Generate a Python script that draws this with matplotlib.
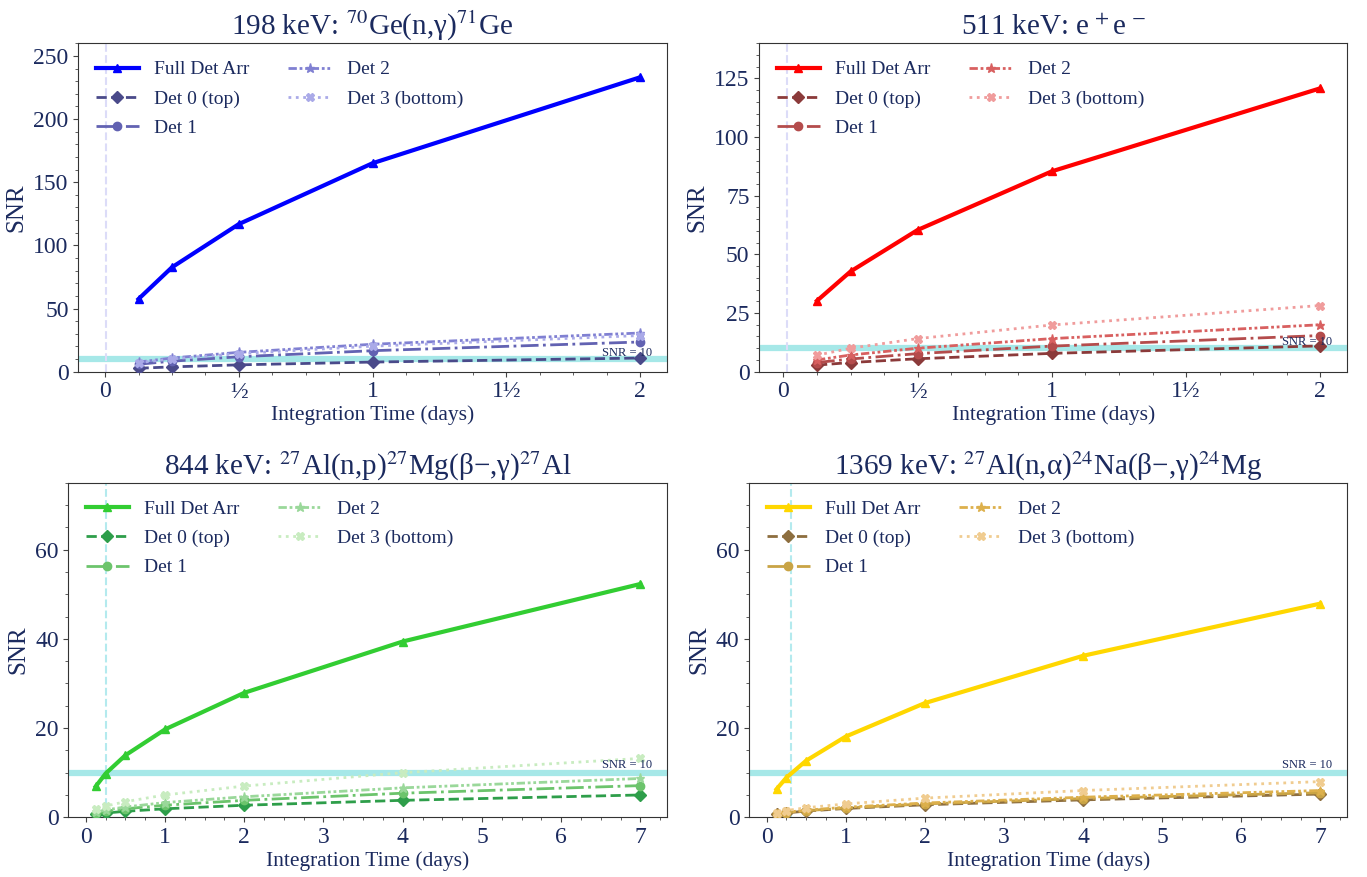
import matplotlib
matplotlib.use('Agg')
import matplotlib.pyplot as plt
from matplotlib.ticker import FixedLocator, MultipleLocator

plt.rcParams['font.family'] = ['Liberation Serif', 'DejaVu Serif']
plt.rcParams['mathtext.fontset'] = 'stix'

# integration times (days)
x_short = [0.125, 0.25, 0.5, 1, 2]
x_long = [0.125, 0.25, 0.5, 1, 2, 4, 7]

# 198 keV: 70Ge(n,g)71Ge
ge198_full = [57.5, 82.6, 116.8, 165.0, 233.0]
ge198_det0 = [2.7, 3.8, 5.4, 7.6, 10.8]
ge198_det1 = [5.9, 8.3, 11.8, 16.6, 23.5]
ge198_det2 = [7.6, 10.8, 15.3, 21.7, 30.6]
ge198_det3 = [7.1, 10.1, 14.3, 20.2, 28.6]

# 511 keV: e+e-
pos511_full = [30.2, 42.7, 60.4, 85.4, 120.8]
pos511_det0 = [2.8, 3.9, 5.5, 7.8, 11.0]
pos511_det1 = [3.9, 5.4, 7.7, 10.9, 15.4]
pos511_det2 = [5.0, 7.1, 10.0, 14.1, 20.0]
pos511_det3 = [7.0, 10.0, 14.1, 19.9, 28.2]

# 844 keV: 27Al(n,p)27Mg
al844_full = [6.9, 9.8, 13.9, 19.7, 27.9, 39.4, 52.3]
al844_det0 = [0.67, 0.94, 1.34, 1.9, 2.7, 3.8, 5.0]
al844_det1 = [0.95, 1.34, 1.9, 2.7, 3.8, 5.4, 7.1]
al844_det2 = [1.16, 1.64, 2.3, 3.3, 4.6, 6.6, 8.7]
al844_det3 = [1.76, 2.5, 3.5, 5.0, 7.0, 10.0, 13.2]

# 1369 keV: 27Al(n,a)24Na
na1369_full = [6.3, 8.9, 12.7, 18.1, 25.6, 36.2, 47.9]
na1369_det0 = [0.70, 0.98, 1.39, 1.97, 2.8, 3.9, 5.2]
na1369_det1 = [0.75, 1.05, 1.48, 2.1, 3.0, 4.2, 5.5]
na1369_det2 = [0.8, 1.13, 1.6, 2.25, 3.2, 4.5, 6.0]
na1369_det3 = [1.07, 1.51, 2.14, 3.0, 4.3, 6.0, 8.0]

# time where SNR reaches 10 (dashed vertical marker)
t_snr10 = [0.004, 0.014, 0.255, 0.31]

labels = ['Full Det Arr', 'Det 0 (top)', 'Det 1', 'Det 2', 'Det 3 (bottom)']
titles = [r'198 keV: $^{70}$Ge(n,γ)$^{71}$Ge',
          r'511 keV: e$^{\,+}$e$^{\,-}$',
          r'844 keV: $^{27}$Al(n,p)$^{27}$Mg(β−,γ)$^{27}$Al',
          r'1369 keV: $^{27}$Al(n,α)$^{24}$Na(β−,γ)$^{24}$Mg']

text_col = '#1b2a5e'
snr_col = '#a6e8e8'

panels = [
    dict(x=x_short, ys=[ge198_full, ge198_det0, ge198_det1, ge198_det2, ge198_det3],
         colors=['#0000ff', '#4a4a8a', '#6262b2', '#8080d2', '#aaaae8'],
         vcol='#dcdcf8', pos=[0.0573, 0.5762, 0.4304, 0.3745],
         xlim=(-0.1, 2.1), ylim=(0, 260), ymin=10, xmin=0.125, half=True),
    dict(x=x_short, ys=[pos511_full, pos511_det0, pos511_det1, pos511_det2, pos511_det3],
         colors=['#ff0000', '#8b3a3a', '#b44c4c', '#d86060', '#f09c9c'],
         vcol='#dcdcf8', pos=[0.5554, 0.5762, 0.4301, 0.3745],
         xlim=(-0.09, 2.1), ylim=(0, 140), ymin=5, xmin=0.125, half=True),
    dict(x=x_long, ys=[al844_full, al844_det0, al844_det1, al844_det2, al844_det3],
         colors=['#32cd32', '#2e9e4a', '#6cc46c', '#9ad89a', '#c8ecc0'],
         vcol='#b4eaee', pos=[0.0500, 0.0681, 0.4382, 0.3815],
         xlim=(-0.22, 7.34), ylim=(0, 75), ymin=5, xmin=0.25, half=False),
    dict(x=x_long, ys=[na1369_full, na1369_det0, na1369_det1, na1369_det2, na1369_det3],
         colors=['#ffd700', '#8d6e3f', '#c9a445', '#ddb04c', '#f0cc90'],
         vcol='#b4eaee', pos=[0.5481, 0.0681, 0.4375, 0.3815],
         xlim=(-0.22, 7.34), ylim=(0, 75), ymin=5, xmin=0.25, half=False),
]

styles = [
    dict(ls='-', marker='^', lw=3, ms=6),
    dict(ls='--', marker='D', lw=2, ms=6),
    dict(ls='-.', marker='o', lw=2, ms=6),
    dict(ls=(0, (3, 1, 1, 1, 1, 1)), marker='*', lw=2, ms=6.5),
    dict(ls=':', marker='X', lw=2, ms=6),
]

fig = plt.figure(figsize=(13.67, 8.77), dpi=100)

for i, p in enumerate(panels):
    ax = fig.add_axes(p['pos'])
    ax.axhline(10, color=snr_col, lw=4.5, zorder=1)
    ax.axvline(t_snr10[i], color=p['vcol'], ls='--', lw=1.5, zorder=1)
    ax.text(0.975, 10.3, 'SNR = 10', transform=ax.get_yaxis_transform(),
            ha='right', va='bottom', fontsize=9, color=text_col, zorder=5)

    for y, c, st, lab in zip(p['ys'], p['colors'], styles, labels):
        ax.plot(p['x'], y, color=c, label=lab, zorder=3, **st)

    ax.set_xlim(p['xlim'])
    ax.set_ylim(p['ylim'])
    if p['half']:
        ax.xaxis.set_major_locator(FixedLocator([0, 0.5, 1, 1.5, 2]))
        ax.set_xticklabels(['0', '½', '1', '1½', '2'])
    else:
        ax.xaxis.set_major_locator(MultipleLocator(1))
    ax.xaxis.set_minor_locator(MultipleLocator(p['xmin']))
    ax.yaxis.set_minor_locator(MultipleLocator(p['ymin']))

    ax.tick_params(labelsize=17, labelcolor=text_col, colors='#444444')
    ax.tick_params(which='minor', colors='#444444')
    for s in ax.spines.values():
        s.set_color('#333333')

    ax.set_title(titles[i], fontsize=21, color=text_col)
    ax.set_xlabel('Integration Time (days)', fontsize=15.5, color=text_col, labelpad=2)
    ax.set_ylabel('SNR', fontsize=18, color=text_col, labelpad=4)

    ax.legend(loc='upper left', ncol=2, frameon=False, fontsize=14,
              labelcolor=text_col, handlelength=2.2, labelspacing=0.6)

plt.savefig('out.png', dpi=100)
